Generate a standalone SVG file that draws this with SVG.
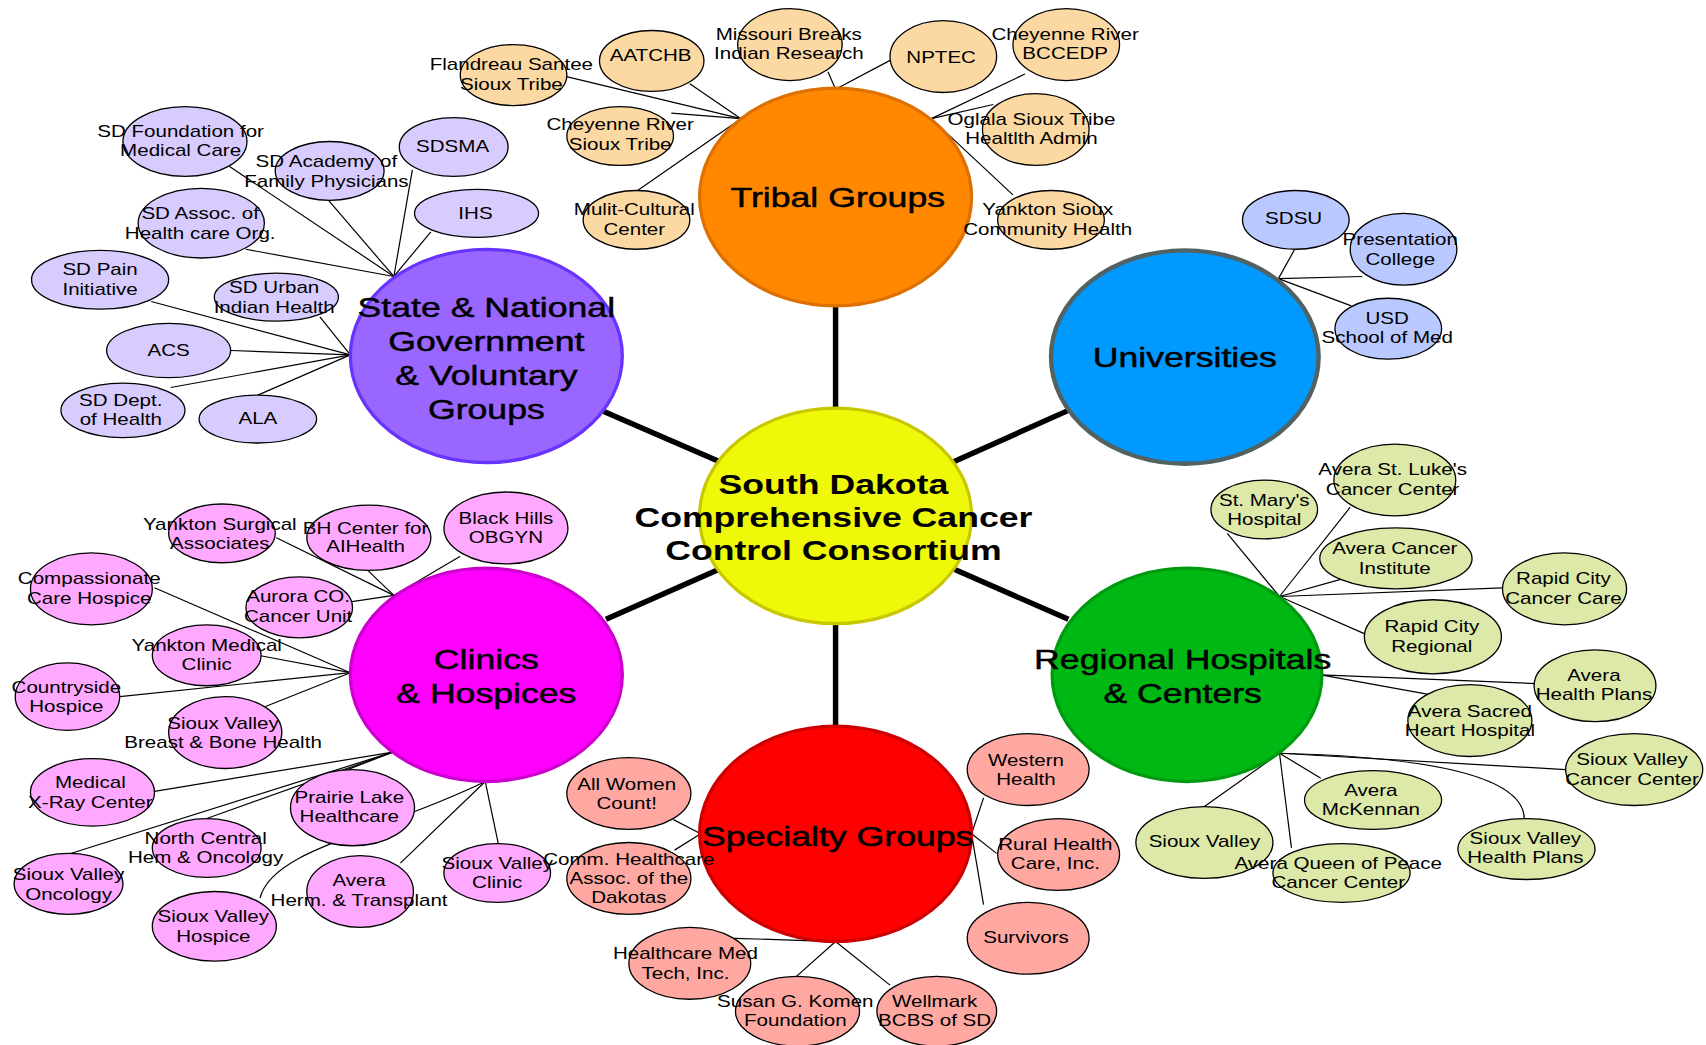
<svg xmlns="http://www.w3.org/2000/svg" width="1706" height="1045" viewBox="0 0 1706 1045">
<style>
  text { font-family: "Liberation Sans", Arial, sans-serif; fill: #000; text-anchor: middle; }
  .s { font-size: 15px; }
  .h { font-size: 26px; stroke: #000; stroke-width: 0.45; }
  .c { font-size: 26px; font-weight: bold; }
  .sat { stroke: #000; stroke-width: 1.2; }
  .tr { fill: #FCD9A3; }
  .st { fill: #D8CCFF; }
  .un { fill: #B9C9FF; }
  .cl { fill: #FFA8FF; }
  .rg { fill: #DCE9A8; }
  .sp { fill: #FFA8A2; }
  .hub { stroke-width: 3; }
  #connectors line, #connectors path { stroke: #000; stroke-width: 1.1; fill: none; }
  #connectors .spoke { stroke-width: 5; }
</style>
<rect width="1706" height="1045" fill="#fff"/>
<g transform="scale(1.088 1.0885)">

<!-- links: thick spokes from the consortium, thin lines to member organisations -->
<g id="connectors">
  <line class="spoke" x1="768" y1="278" x2="768" y2="378"/>
  <line class="spoke" x1="768" y1="570" x2="768" y2="670"/>
  <line class="spoke" x1="555" y1="378" x2="661" y2="424"/>
  <line class="spoke" x1="877" y1="424" x2="982" y2="377"/>
  <line class="spoke" x1="557" y1="569" x2="661" y2="523"/>
  <line class="spoke" x1="877" y1="523" x2="982" y2="569"/>

  <!-- tribal -->
  <line x1="515" y1="69" x2="681" y2="109"/>
  <line x1="634" y1="77" x2="681" y2="109"/>
  <line x1="617" y1="104" x2="681" y2="109"/>
  <line x1="586" y1="175" x2="681" y2="109"/>
  <line x1="761" y1="66" x2="768" y2="82"/>
  <line x1="819" y1="55" x2="768" y2="82"/>
  <line x1="942" y1="68" x2="856" y2="109"/>
  <line x1="913" y1="96" x2="856" y2="109"/>
  <line x1="931" y1="179" x2="856" y2="109"/>

  <!-- state & national -->
  <line x1="211" y1="153" x2="362" y2="254"/>
  <line x1="302" y1="184" x2="362" y2="254"/>
  <line x1="379" y1="156" x2="362" y2="254"/>
  <line x1="396" y1="213" x2="362" y2="254"/>
  <line x1="226" y1="229" x2="362" y2="254"/>
  <line x1="139" y1="277" x2="322" y2="326"/>
  <line x1="294" y1="291" x2="322" y2="326"/>
  <line x1="212" y1="322" x2="322" y2="326"/>
  <line x1="157" y1="356" x2="322" y2="326"/>
  <line x1="237" y1="363" x2="322" y2="326"/>

  <!-- universities -->
  <line x1="1190" y1="229" x2="1175" y2="256"/>
  <line x1="1252" y1="254" x2="1175" y2="256"/>
  <line x1="1242" y1="281" x2="1175" y2="256"/>

  <!-- regional hospitals -->
  <line x1="1128" y1="490" x2="1176" y2="548"/>
  <line x1="1241" y1="466" x2="1176" y2="548"/>
  <line x1="1233" y1="532" x2="1176" y2="548"/>
  <line x1="1381" y1="540" x2="1176" y2="548"/>
  <line x1="1256" y1="583" x2="1176" y2="548"/>
  <line x1="1411" y1="628" x2="1214" y2="620"/>
  <line x1="1313" y1="638" x2="1214" y2="620"/>
  <line x1="1439" y1="707" x2="1176" y2="692"/>
  <line x1="1214" y1="715" x2="1176" y2="692"/>
  <line x1="1107" y1="741" x2="1176" y2="692"/>
  <line x1="1187" y1="779" x2="1176" y2="692"/>
  <path d="M1176,692 C1300,695 1400,710 1401,752"/>

  <!-- clinics & hospices -->
  <line x1="254" y1="494" x2="362" y2="547"/>
  <line x1="338" y1="524" x2="362" y2="547"/>
  <line x1="423" y1="511" x2="362" y2="547"/>
  <line x1="322" y1="553" x2="362" y2="547"/>
  <line x1="142" y1="540" x2="322" y2="618"/>
  <line x1="237" y1="602" x2="322" y2="618"/>
  <line x1="110" y1="640" x2="322" y2="618"/>
  <line x1="244" y1="649" x2="322" y2="618"/>
  <line x1="142" y1="727" x2="361" y2="691"/>
  <line x1="62" y1="785" x2="361" y2="691"/>
  <line x1="190" y1="752" x2="361" y2="691"/>
  <line x1="317" y1="708" x2="361" y2="691"/>
  <line x1="458" y1="775" x2="446" y2="718"/>
  <line x1="368" y1="793" x2="446" y2="718"/>
  <path d="M239,825 C250,780 350,765 446,718"/>

  <!-- specialty groups -->
  <line x1="619" y1="753" x2="644" y2="766"/>
  <line x1="620" y1="781" x2="644" y2="766"/>
  <line x1="904" y1="733" x2="893" y2="766"/>
  <line x1="916" y1="784" x2="893" y2="766"/>
  <line x1="904" y1="831" x2="893" y2="766"/>
  <line x1="675" y1="862" x2="768" y2="865"/>
  <line x1="732" y1="897" x2="768" y2="865"/>
  <line x1="818" y1="905" x2="768" y2="865"/>
</g>

<!-- main groups -->
<g id="n-consortium">
  <ellipse class="hub" cx="768" cy="474" rx="125" ry="99" fill="#F0F80A" stroke="#C8C800"/>
  <text class="c" transform="translate(766 0) scale(1.26 1)"><tspan x="0" y="453.5">South Dakota</tspan><tspan x="0" y="484.5">Comprehensive Cancer</tspan><tspan x="0" y="514.5">Control Consortium</tspan></text>
</g>
<g id="n-tribal">
  <ellipse class="hub" cx="768" cy="181" rx="125" ry="100" fill="#FF8800" stroke="#DD7000"/>
  <text class="h" transform="translate(770 0) scale(1.26 1)"><tspan x="0" y="190.5">Tribal Groups</tspan></text>
</g>
<g id="n-state">
  <ellipse class="hub" cx="447" cy="327" rx="125" ry="98" fill="#9966FF" stroke="#6633FF"/>
  <text class="h" transform="translate(447 0) scale(1.26 1)"><tspan x="0" y="291.5">State &amp; National</tspan><tspan x="0" y="322.5">Government</tspan><tspan x="0" y="353.5">&amp; Voluntary</tspan><tspan x="0" y="384.5">Groups</tspan></text>
</g>
<g id="n-universities">
  <ellipse cx="1089" cy="328" rx="123" ry="98" fill="#0099FF" stroke="#526262" stroke-width="4"/>
  <text class="h" transform="translate(1089 0) scale(1.26 1)"><tspan x="0" y="337.5">Universities</tspan></text>
</g>
<g id="n-clinics">
  <ellipse class="hub" cx="447" cy="620" rx="125" ry="98" fill="#FF00FF" stroke="#CC00CC"/>
  <text class="h" transform="translate(447 0) scale(1.26 1)"><tspan x="0" y="614.5">Clinics</tspan><tspan x="0" y="645.5">&amp; Hospices</tspan></text>
</g>
<g id="n-regional">
  <ellipse class="hub" cx="1091" cy="620" rx="124" ry="98" fill="#00B814" stroke="#009A10"/>
  <text class="h" transform="translate(1087 0) scale(1.26 1)"><tspan x="0" y="614.5">Regional Hospitals</tspan><tspan x="0" y="645.5">&amp; Centers</tspan></text>
</g>

<!-- tribal members -->
<g id="n-flandreau"><ellipse class="sat tr" cx="472" cy="69" rx="49" ry="28"/><text class="s" transform="translate(470 0) scale(1.26 1)"><tspan x="0" y="64.5">Flandreau Santee</tspan><tspan x="0" y="82.5">Sioux Tribe</tspan></text></g>
<g id="n-aatchb"><ellipse class="sat tr" cx="599" cy="56" rx="48" ry="28"/><text class="s" transform="translate(598 0) scale(1.26 1)"><tspan x="0" y="56">AATCHB</tspan></text></g>
<g id="n-missouri"><ellipse class="sat tr" cx="726" cy="41" rx="48" ry="33"/><text class="s" transform="translate(725 0) scale(1.26 1)"><tspan x="0" y="36.5">Missouri Breaks</tspan><tspan x="0" y="54.5">Indian Research</tspan></text></g>
<g id="n-nptec"><ellipse class="sat tr" cx="867" cy="52" rx="49" ry="33"/><text class="s" transform="translate(865 0) scale(1.26 1)"><tspan x="0" y="57.5">NPTEC</tspan></text></g>
<g id="n-bccedp"><ellipse class="sat tr" cx="980" cy="41" rx="49" ry="33"/><text class="s" transform="translate(979 0) scale(1.26 1)"><tspan x="0" y="36.5">Cheyenne River</tspan><tspan x="0" y="54.5">BCCEDP</tspan></text></g>
<g id="n-crst"><ellipse class="sat tr" cx="570" cy="125" rx="49" ry="27"/><text class="s" transform="translate(570 0) scale(1.26 1)"><tspan x="0" y="119.5">Cheyenne River</tspan><tspan x="0" y="137.5">Sioux Tribe</tspan></text></g>
<g id="n-oglala"><ellipse class="sat tr" cx="952" cy="119" rx="49" ry="33"/><text class="s" transform="translate(948 0) scale(1.26 1)"><tspan x="0" y="114.5">Oglala Sioux Tribe</tspan><tspan x="0" y="132.5">Healtlth Admin</tspan></text></g>
<g id="n-multicultural"><ellipse class="sat tr" cx="585" cy="202" rx="49" ry="27"/><text class="s" transform="translate(583 0) scale(1.26 1)"><tspan x="0" y="197.5">Mulit-Cultural</tspan><tspan x="0" y="215.5">Center</tspan></text></g>
<g id="n-yankton-sioux"><ellipse class="sat tr" cx="966" cy="202" rx="49" ry="27"/><text class="s" transform="translate(963 0) scale(1.26 1)"><tspan x="0" y="197.5">Yankton Sioux</tspan><tspan x="0" y="215.5">Community Health</tspan></text></g>

<!-- state, national and voluntary members -->
<g id="n-sdfmc"><ellipse class="sat st" cx="170" cy="130" rx="57" ry="32"/><text class="s" transform="translate(166 0) scale(1.26 1)"><tspan x="0" y="126">SD Foundation for</tspan><tspan x="0" y="143.5">Medical Care</tspan></text></g>
<g id="n-sdafp"><ellipse class="sat st" cx="303" cy="157" rx="50" ry="27"/><text class="s" transform="translate(300 0) scale(1.26 1)"><tspan x="0" y="153.5">SD Academy of</tspan><tspan x="0" y="171.5">Family Physicians</tspan></text></g>
<g id="n-sdsma"><ellipse class="sat st" cx="417" cy="135" rx="50" ry="27"/><text class="s" transform="translate(416 0) scale(1.26 1)"><tspan x="0" y="139.5">SDSMA</tspan></text></g>
<g id="n-ihs"><ellipse class="sat st" cx="438" cy="196" rx="57" ry="22"/><text class="s" transform="translate(437 0) scale(1.26 1)"><tspan x="0" y="201">IHS</tspan></text></g>
<g id="n-sdahco"><ellipse class="sat st" cx="185" cy="205" rx="58" ry="32"/><text class="s" transform="translate(184 0) scale(1.26 1)"><tspan x="0" y="201.5">SD Assoc. of</tspan><tspan x="0" y="219.5">Health care Org.</tspan></text></g>
<g id="n-sdpain"><ellipse class="sat st" cx="92" cy="257" rx="63" ry="27"/><text class="s" transform="translate(92 0) scale(1.26 1)"><tspan x="0" y="253">SD Pain</tspan><tspan x="0" y="271">Initiative</tspan></text></g>
<g id="n-sdurban"><ellipse class="sat st" cx="254" cy="273" rx="57" ry="22"/><text class="s" transform="translate(252 0) scale(1.26 1)"><tspan x="0" y="269.5">SD Urban</tspan><tspan x="0" y="287.5">Indian Health</tspan></text></g>
<g id="n-acs"><ellipse class="sat st" cx="155" cy="322" rx="57" ry="25"/><text class="s" transform="translate(155 0) scale(1.26 1)"><tspan x="0" y="327">ACS</tspan></text></g>
<g id="n-sddoh"><ellipse class="sat st" cx="113" cy="377" rx="57" ry="25"/><text class="s" transform="translate(111 0) scale(1.26 1)"><tspan x="0" y="373">SD Dept.</tspan><tspan x="0" y="390.5">of Health</tspan></text></g>
<g id="n-ala"><ellipse class="sat st" cx="237" cy="385" rx="54" ry="22"/><text class="s" transform="translate(237 0) scale(1.26 1)"><tspan x="0" y="389.5">ALA</tspan></text></g>

<!-- universities -->
<g id="n-sdsu"><ellipse class="sat un" cx="1191" cy="202" rx="49" ry="27"/><text class="s" transform="translate(1189 0) scale(1.26 1)"><tspan x="0" y="206">SDSU</tspan></text></g>
<g id="n-presentation"><ellipse class="sat un" cx="1290" cy="229" rx="49" ry="33"/><text class="s" transform="translate(1287 0) scale(1.26 1)"><tspan x="0" y="225.5">Presentation</tspan><tspan x="0" y="243.5">College</tspan></text></g>
<g id="n-usd"><ellipse class="sat un" cx="1276" cy="302" rx="49" ry="28"/><text class="s" transform="translate(1275 0) scale(1.26 1)"><tspan x="0" y="298">USD</tspan><tspan x="0" y="315.5">School of Med</tspan></text></g>

<!-- clinics and hospices -->
<g id="n-yankton-surgical"><ellipse class="sat cl" cx="204" cy="490" rx="49" ry="27"/><text class="s" transform="translate(202 0) scale(1.26 1)"><tspan x="0" y="486.5">Yankton Surgical</tspan><tspan x="0" y="504.5">Associates</tspan></text></g>
<g id="n-bh-center"><ellipse class="sat cl" cx="339" cy="494" rx="57" ry="30"/><text class="s" transform="translate(336 0) scale(1.26 1)"><tspan x="0" y="491">BH Center for</tspan><tspan x="0" y="507.5">AIHealth</tspan></text></g>
<g id="n-bh-obgyn"><ellipse class="sat cl" cx="465" cy="485" rx="57" ry="33"/><text class="s" transform="translate(465 0) scale(1.26 1)"><tspan x="0" y="481">Black Hills</tspan><tspan x="0" y="499">OBGYN</tspan></text></g>
<g id="n-compassionate"><ellipse class="sat cl" cx="84" cy="541" rx="56" ry="33"/><text class="s" transform="translate(82 0) scale(1.26 1)"><tspan x="0" y="536.5">Compassionate</tspan><tspan x="0" y="554.5">Care Hospice</tspan></text></g>
<g id="n-aurora"><ellipse class="sat cl" cx="275" cy="558" rx="49" ry="28"/><text class="s" transform="translate(274 0) scale(1.26 1)"><tspan x="0" y="553.5">Aurora CO.</tspan><tspan x="0" y="571.5">Cancer Unit</tspan></text></g>
<g id="n-yankton-medical"><ellipse class="sat cl" cx="190" cy="602" rx="50" ry="28"/><text class="s" transform="translate(190 0) scale(1.26 1)"><tspan x="0" y="598">Yankton Medical</tspan><tspan x="0" y="615.5">Clinic</tspan></text></g>
<g id="n-countryside"><ellipse class="sat cl" cx="62" cy="640" rx="48" ry="31"/><text class="s" transform="translate(61 0) scale(1.26 1)"><tspan x="0" y="636.5">Countryside</tspan><tspan x="0" y="654.5">Hospice</tspan></text></g>
<g id="n-sv-breast"><ellipse class="sat cl" cx="207" cy="673" rx="52" ry="33"/><text class="s" transform="translate(205 0) scale(1.26 1)"><tspan x="0" y="670">Sioux Valley</tspan><tspan x="0" y="687.5">Breast &amp; Bone Health</tspan></text></g>
<g id="n-xray"><ellipse class="sat cl" cx="85" cy="728" rx="57" ry="31"/><text class="s" transform="translate(83 0) scale(1.26 1)"><tspan x="0" y="724">Medical</tspan><tspan x="0" y="742">X-Ray Center</tspan></text></g>
<g id="n-prairie-lake"><ellipse class="sat cl" cx="324" cy="742" rx="57" ry="35"/><text class="s" transform="translate(321 0) scale(1.26 1)"><tspan x="0" y="738">Prairie Lake</tspan><tspan x="0" y="755.5">Healthcare</tspan></text></g>
<g id="n-north-central"><ellipse class="sat cl" cx="190" cy="779" rx="50" ry="27"/><text class="s" transform="translate(189 0) scale(1.26 1)"><tspan x="0" y="775">North Central</tspan><tspan x="0" y="792.5">Hem &amp; Oncology</tspan></text></g>
<g id="n-sv-oncology"><ellipse class="sat cl" cx="63" cy="812" rx="50" ry="28"/><text class="s" transform="translate(63 0) scale(1.26 1)"><tspan x="0" y="808.5">Sioux Valley</tspan><tspan x="0" y="826.5">Oncology</tspan></text></g>
<g id="n-avera-herm"><ellipse class="sat cl" cx="331" cy="819" rx="49" ry="33"/><text class="s" transform="translate(330 0) scale(1.26 1)"><tspan x="0" y="814">Avera</tspan><tspan x="0" y="832">Herm. &amp; Transplant</tspan></text></g>
<g id="n-sv-hospice"><ellipse class="sat cl" cx="197" cy="851" rx="57" ry="32"/><text class="s" transform="translate(196 0) scale(1.26 1)"><tspan x="0" y="847.5">Sioux Valley</tspan><tspan x="0" y="865">Hospice</tspan></text></g>
<g id="n-sv-clinic"><ellipse class="sat cl" cx="457" cy="802" rx="49" ry="27"/><text class="s" transform="translate(457 0) scale(1.26 1)"><tspan x="0" y="798">Sioux Valley</tspan><tspan x="0" y="815.5">Clinic</tspan></text></g>

<!-- specialty groups -->
<g id="n-specialty">
  <ellipse class="hub" cx="768" cy="766" rx="125" ry="99" fill="#FF0000" stroke="#CC0000"/>
  <text class="h" transform="translate(770 0) scale(1.26 1)"><tspan x="0" y="777.5">Specialty Groups</tspan></text>
</g>
<g id="n-all-women"><ellipse class="sat sp" cx="578" cy="729" rx="57" ry="33"/><text class="s" transform="translate(576 0) scale(1.26 1)"><tspan x="0" y="725.5">All Women</tspan><tspan x="0" y="743.5">Count!</tspan></text></g>
<g id="n-comm"><ellipse class="sat sp" cx="578" cy="807" rx="57" ry="33"/><text class="s" transform="translate(578 0) scale(1.26 1)"><tspan x="0" y="795">Comm. Healthcare</tspan><tspan x="0" y="812.5">Assoc. of the</tspan><tspan x="0" y="830">Dakotas</tspan></text></g>
<g id="n-western"><ellipse class="sat sp" cx="945" cy="707" rx="56" ry="33"/><text class="s" transform="translate(943 0) scale(1.26 1)"><tspan x="0" y="703.5">Western</tspan><tspan x="0" y="721.5">Health</tspan></text></g>
<g id="n-rural"><ellipse class="sat sp" cx="973" cy="785" rx="56" ry="33"/><text class="s" transform="translate(970 0) scale(1.26 1)"><tspan x="0" y="781">Rural Health</tspan><tspan x="0" y="798.5">Care, Inc.</tspan></text></g>
<g id="n-survivors"><ellipse class="sat sp" cx="945" cy="862" rx="56" ry="33"/><text class="s" transform="translate(943 0) scale(1.26 1)"><tspan x="0" y="866.5">Survivors</tspan></text></g>
<g id="n-hmt"><ellipse class="sat sp" cx="634" cy="885" rx="56" ry="33"/><text class="s" transform="translate(630 0) scale(1.26 1)"><tspan x="0" y="881.5">Healthcare Med</tspan><tspan x="0" y="899">Tech, Inc.</tspan></text></g>
<g id="n-komen"><ellipse class="sat sp" cx="733" cy="929" rx="57" ry="32"/><text class="s" transform="translate(731 0) scale(1.26 1)"><tspan x="0" y="925.5">Susan G. Komen</tspan><tspan x="0" y="943">Foundation</tspan></text></g>
<g id="n-wellmark"><ellipse class="sat sp" cx="861" cy="929" rx="55" ry="32"/><text class="s" transform="translate(859 0) scale(1.26 1)"><tspan x="0" y="925.5">Wellmark</tspan><tspan x="0" y="943">BCBS of SD</tspan></text></g>

<!-- regional hospitals and centers -->
<g id="n-st-marys"><ellipse class="sat rg" cx="1162" cy="468" rx="49" ry="27"/><text class="s" transform="translate(1162 0) scale(1.26 1)"><tspan x="0" y="464.5">St. Mary's</tspan><tspan x="0" y="482.5">Hospital</tspan></text></g>
<g id="n-st-lukes"><ellipse class="sat rg" cx="1282" cy="441" rx="56" ry="33"/><text class="s" transform="translate(1280 0) scale(1.26 1)"><tspan x="0" y="436.5">Avera St. Luke's</tspan><tspan x="0" y="454.5">Cancer Center</tspan></text></g>
<g id="n-aci"><ellipse class="sat rg" cx="1283" cy="513" rx="70" ry="28"/><text class="s" transform="translate(1282 0) scale(1.26 1)"><tspan x="0" y="509">Avera Cancer</tspan><tspan x="0" y="527">Institute</tspan></text></g>
<g id="n-rccc"><ellipse class="sat rg" cx="1438" cy="541" rx="57" ry="33"/><text class="s" transform="translate(1437 0) scale(1.26 1)"><tspan x="0" y="536.5">Rapid City</tspan><tspan x="0" y="554.5">Cancer Care</tspan></text></g>
<g id="n-rcr"><ellipse class="sat rg" cx="1317" cy="585" rx="63" ry="34"/><text class="s" transform="translate(1316 0) scale(1.26 1)"><tspan x="0" y="581">Rapid City</tspan><tspan x="0" y="599">Regional</tspan></text></g>
<g id="n-ahp"><ellipse class="sat rg" cx="1466" cy="630" rx="56" ry="33"/><text class="s" transform="translate(1465 0) scale(1.26 1)"><tspan x="0" y="625.5">Avera</tspan><tspan x="0" y="643.5">Health Plans</tspan></text></g>
<g id="n-sacred-heart"><ellipse class="sat rg" cx="1351" cy="662" rx="57" ry="33"/><text class="s" transform="translate(1351 0) scale(1.26 1)"><tspan x="0" y="658.5">Avera Sacred</tspan><tspan x="0" y="676.5">Heart Hospital</tspan></text></g>
<g id="n-svcc"><ellipse class="sat rg" cx="1502" cy="707" rx="63" ry="33"/><text class="s" transform="translate(1500 0) scale(1.26 1)"><tspan x="0" y="703">Sioux Valley</tspan><tspan x="0" y="721">Cancer Center</tspan></text></g>
<g id="n-mckennan"><ellipse class="sat rg" cx="1262" cy="735" rx="63" ry="27"/><text class="s" transform="translate(1260 0) scale(1.26 1)"><tspan x="0" y="731">Avera</tspan><tspan x="0" y="748.5">McKennan</tspan></text></g>
<g id="n-sioux-valley"><ellipse class="sat rg" cx="1107" cy="774" rx="63" ry="33"/><text class="s" transform="translate(1107 0) scale(1.26 1)"><tspan x="0" y="778.5">Sioux Valley</tspan></text></g>
<g id="n-svhp"><ellipse class="sat rg" cx="1403" cy="780" rx="63" ry="28"/><text class="s" transform="translate(1402 0) scale(1.26 1)"><tspan x="0" y="775.5">Sioux Valley</tspan><tspan x="0" y="793">Health Plans</tspan></text></g>
<g id="n-queen-of-peace"><ellipse class="sat rg" cx="1233" cy="802" rx="63" ry="27"/><text class="s" transform="translate(1230 0) scale(1.26 1)"><tspan x="0" y="798.5">Avera Queen of Peace</tspan><tspan x="0" y="815.5">Cancer Center</tspan></text></g>

</g>
</svg>
